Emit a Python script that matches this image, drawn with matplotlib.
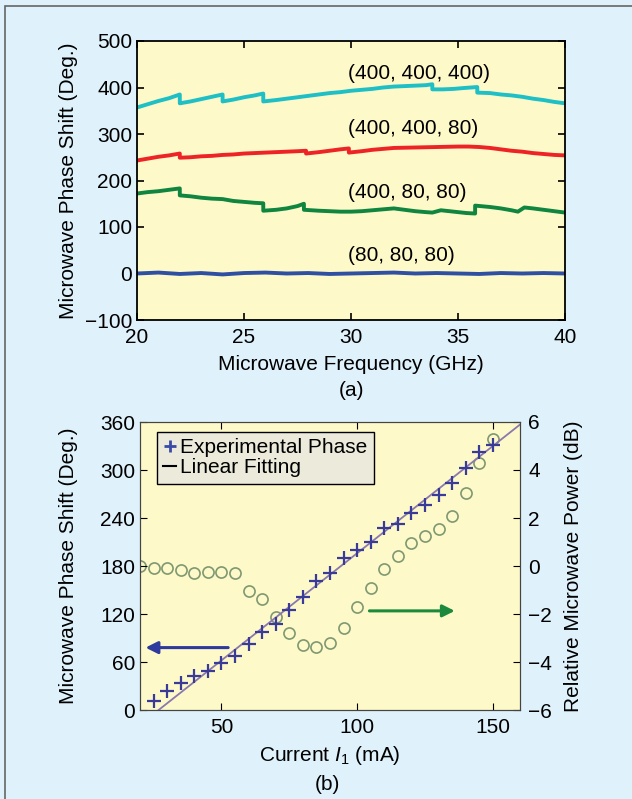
import matplotlib
matplotlib.use("Agg")
import matplotlib.pyplot as plt
from matplotlib.lines import Line2D
from matplotlib.patches import Rectangle

plt.rcParams['font.family'] = ['Liberation Sans', 'DejaVu Sans']
plt.rcParams['mathtext.fontset'] = 'custom'
plt.rcParams['mathtext.rm'] = 'Liberation Sans'
plt.rcParams['mathtext.it'] = 'Liberation Sans:italic'

FS = 15

# (a) phase shift vs frequency, jumps are repeated x values
freq_cyan = [20, 20.5, 21, 21.5, 22, 22, 22.5, 23, 23.5, 24, 24, 24.5, 25, 25.5, 25.9, 25.9,
             26.5, 27, 27.5, 28, 28.5, 29, 29.5, 30, 30.5, 31, 31.5, 32, 32.5, 33, 33.5, 33.8,
             33.8, 34.3, 34.8, 35.3, 35.9, 35.9, 36.5, 37, 37.5, 38, 38.5, 39, 39.5, 40]
phase_cyan = [357, 364, 371, 377, 385, 366, 370, 375, 380, 385, 370, 374, 379, 383, 387, 370,
              373, 376, 379, 382, 385, 388, 390, 393, 395, 397, 400, 402, 403, 404, 405, 407,
              396, 396, 397, 399, 401, 389, 388, 385, 383, 380, 376, 373, 369, 366]

freq_red = [20, 20.5, 21, 21.5, 22, 22, 22.5, 23, 23.5, 24, 24.5, 25, 25.5, 26, 26.5, 27, 27.5,
            27.9, 27.9, 28.5, 29, 29.5, 29.9, 29.9, 30.5, 31, 31.5, 32, 33, 34, 35, 35.5, 36,
            36.5, 37, 37.5, 38, 38.5, 39, 39.5, 40]
phase_red = [243, 247, 251, 254, 258, 249, 250, 252, 253, 255, 256, 258, 259, 260, 261, 262, 263,
             264, 258, 261, 264, 267, 269, 260, 263, 266, 268, 270, 271, 272, 273, 273, 272,
             270, 267, 264, 262, 259, 257, 255, 254]

freq_green = [20, 20.5, 21, 21.5, 22, 22, 22.5, 23, 23.5, 24, 24.5, 25, 25.5, 25.9, 25.9, 26.5,
              27, 27.5, 27.8, 27.8, 28.5, 29, 29.5, 30, 30.5, 31, 31.5, 32, 32.5, 33, 33.5, 33.8,
              34.2, 34.6, 35, 35.4, 35.8, 35.8, 36.5, 37, 37.5, 37.8, 38.1, 38.5, 39, 39.5, 40]
phase_green = [172, 175, 177, 180, 183, 168, 166, 163, 161, 160, 156, 154, 152, 151, 135, 137,
               140, 145, 150, 137, 135, 134, 133, 133, 134, 136, 138, 140, 137, 134, 132, 131,
               136, 134, 132, 130, 129, 146, 143, 140, 136, 133, 142, 140, 137, 134, 131]

freq_blue = [20, 21, 22, 23, 24, 25, 26, 27, 28, 29, 30, 31, 32, 33, 34, 35, 36, 37, 38, 39, 40]
phase_blue = [0, 2, -1, 1, -2, 1, 2, 0, 1, -1, 0, 1, 2, 0, 1, 0, -1, 1, 0, 1, 0]

labels_a = ['(400, 400, 400)', '(400, 400, 80)', '(400, 80, 80)', '(80, 80, 80)']
label_y = [430, 312, 174, 39]

# (b) phase and power vs current
current_phase = [25, 30, 35, 40, 45, 50, 55, 60, 65, 70, 75, 80, 85, 90, 95, 100, 105,
                 110, 115, 120, 125, 130, 135, 140, 145, 150]
phase_b = [11, 24, 34, 42, 49, 59, 68, 82, 97, 107, 125, 141, 161, 171, 190, 200, 210,
           227, 233, 246, 256, 269, 284, 302, 322, 331]
fit_slope = 2.68
fit_intercept = -72.0

current_power = [20, 25, 30, 35, 40, 45, 50, 55, 60, 65, 70, 75, 80, 85, 90, 95, 100, 105,
                 110, 115, 120, 125, 130, 135, 140, 145, 150]
power_b = [0.0, -0.08, -0.08, -0.17, -0.29, -0.25, -0.25, -0.29, -1.04, -1.38, -2.12, -2.79,
           -3.29, -3.38, -3.21, -2.58, -1.71, -0.92, -0.12, 0.42, 0.96, 1.25, 1.54, 2.08,
           3.04, 4.29, 5.29]

fig = plt.figure(figsize=(6.32, 7.99), dpi=100, facecolor='#dff2fb')
fig.patches.append(Rectangle((5 / 632, -0.01), 1.1, 1 - 6 / 799 + 0.01, transform=fig.transFigure,
                             fill=False, edgecolor='#666666', lw=1.2))

ax = fig.add_axes([137 / 632, 1 - 320 / 799, 428 / 632, 279 / 799])
ax.set_facecolor('#fdf9c9')
ax.plot(freq_cyan, phase_cyan, color='#1fbfc6', lw=2.8)
ax.plot(freq_red, phase_red, color='#ee2326', lw=2.8)
ax.plot(freq_green, phase_green, color='#0f8540', lw=2.8)
ax.plot(freq_blue, phase_blue, color='#2f4fa2', lw=2.8)
for lab, yy in zip(labels_a, label_y):
    ax.text(29.85, yy, lab, fontsize=FS, ha='left', va='center')
ax.set_xlim(20, 40)
ax.set_ylim(-100, 500)
ax.set_xticks([20, 25, 30, 35, 40])
ax.set_yticks([-100, 0, 100, 200, 300, 400, 500])
ax.tick_params(direction='in', top=True, right=True, labelsize=FS, length=5, width=1.2)
ax.tick_params(axis='x', pad=6)
for s in ax.spines.values():
    s.set_linewidth(1.3)
ax.set_xlabel('Microwave Frequency (GHz)', fontsize=FS)
ax.xaxis.set_label_coords(0.5, -0.125)
ax.set_ylabel('Microwave Phase Shift (Deg.)', fontsize=FS)
ax.yaxis.set_label_coords(-0.138, 0.5)
fig.text(351 / 632, 1 - 391 / 799, '(a)', fontsize=FS, ha='center', va='center')

bx = fig.add_axes([140 / 632, 1 - 710 / 799, 380 / 632, 288 / 799])
bx.plot([20, 160], [fit_slope * 20 + fit_intercept, fit_slope * 160 + fit_intercept],
        color='#8a78ae', lw=1.3, zorder=2)
bx.plot(current_phase, phase_b, ls='none', marker='+', ms=10, mew=1.6, color='#3a3a98', zorder=3)
bx.annotate('', xy=(21, 78), xytext=(53.5, 78),
            arrowprops=dict(arrowstyle='-|>', color='#2e3a9e', lw=2.2, mutation_scale=18))
bx.set_xlim(20, 160)
bx.set_ylim(0, 360)
bx.set_xticks([50, 100, 150])
bx.set_yticks([0, 60, 120, 180, 240, 300, 360])
bx.tick_params(direction='in', top=True, labelsize=FS, length=5)
bx.tick_params(axis='x', pad=6)
bx.set_xlabel(r'Current $I_1$ (mA)', fontsize=FS)
bx.xaxis.set_label_coords(0.5, -0.118)
bx.set_ylabel('Microwave Phase Shift (Deg.)', fontsize=FS)
bx.yaxis.set_label_coords(-0.163, 0.5)

bx2 = bx.twinx()
bx2.plot(current_power, power_b, ls='none', marker='o', ms=8, mfc='none', mew=1.2, color='#7f9872')
bx2.annotate('', xy=(137, -1.87), xytext=(103.5, -1.87),
             arrowprops=dict(arrowstyle='-|>', color='#1c8a3c', lw=2.2, mutation_scale=18))
bx2.set_ylim(-6, 6)
bx2.set_yticks([-6, -4, -2, 0, 2, 4, 6])
bx2.tick_params(direction='in', labelsize=FS, length=5, pad=6)
bx2.set_ylabel('Relative Microwave Power (dB)', fontsize=FS)
bx2.yaxis.set_label_coords(1.116, 0.5)
for a in (bx, bx2):
    for s in a.spines.values():
        s.set_color('#444444')

handles = [Line2D([], [], ls='none', marker='+', ms=9, mew=2, color='#3a4aa8'),
           Line2D([], [], color='black', lw=1.5)]
leg = bx.legend(handles, ['Experimental Phase', 'Linear Fitting'], loc='upper left',
                bbox_to_anchor=(0.045, 0.965), fontsize=FS, handlelength=0.6, handletextpad=0.2,
                borderpad=0.3, labelspacing=0.05, fancybox=False, framealpha=1,
                facecolor='#ebeadb', edgecolor='black', borderaxespad=0)
leg.get_frame().set_linewidth(1.0)
bx.set_zorder(bx2.get_zorder() + 1)
bx.patch.set_visible(False)
bx2.patch.set_visible(True)
bx2.patch.set_facecolor('#fdf9c9')
fig.text(327 / 632, 1 - 785 / 799, '(b)', fontsize=FS, ha='center', va='center')

fig.savefig('out.png', dpi=100, facecolor=fig.get_facecolor())
